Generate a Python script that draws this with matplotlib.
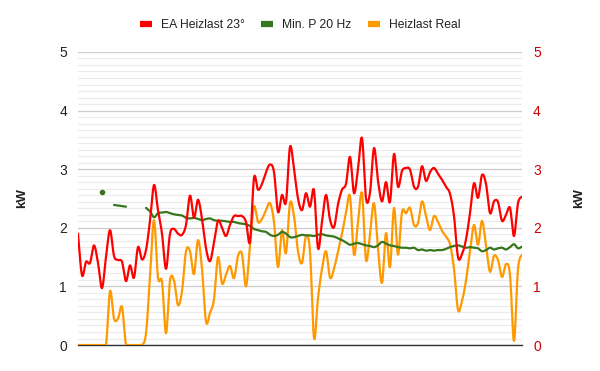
import numpy as np
import matplotlib
matplotlib.use("Agg")
import matplotlib.pyplot as plt
from matplotlib.lines import Line2D

plt.rcParams["font.family"] = ["Liberation Sans", "DejaVu Sans"]

nan = np.nan

# EA Heizlast 23° (kW)
ea_heizlast = [1.90, 1.19, 1.42, 1.40, 1.70, 1.40, 0.97, 1.50, 1.96, 1.52,
               1.45, 1.42, 1.09, 1.36, 1.15, 1.67, 1.46, 1.62, 2.12, 2.73,
               2.30, 1.90, 1.30, 1.90, 1.98, 1.90, 1.88, 2.05, 2.55, 2.17,
               2.48, 2.15, 1.65, 1.43, 1.75, 2.12, 2.00, 1.86, 2.05, 2.20,
               2.20, 2.20, 2.10, 1.76, 2.85, 2.65, 2.75, 2.95, 3.08, 2.95,
               2.27, 2.56, 2.44, 3.38, 3.00, 2.50, 2.30, 2.59, 2.36, 2.64,
               1.65, 2.10, 2.56, 2.14, 2.01, 2.40, 2.65, 2.75, 3.21, 2.59,
               3.00, 3.53, 2.50, 2.60, 3.36, 2.80, 2.45, 2.78, 2.44, 3.26,
               2.70, 2.97, 3.02, 2.99, 2.70, 2.70, 3.05, 2.80, 2.95, 3.02,
               2.92, 2.82, 2.70, 2.58, 2.20, 1.50, 1.55, 1.80, 2.25, 2.76,
               2.51, 2.90, 2.75, 2.25, 2.45, 2.44, 2.12, 2.22, 2.34, 1.86,
               2.42, 2.53]

# Min. P 20 Hz (kW), gaps where no value
min_p_20hz = [nan, nan, nan, nan, nan, nan, 2.61, nan, nan, 2.39,
              2.38, 2.37, 2.36, nan, nan, nan, nan, 2.34, 2.28, 2.18,
              2.25, 2.26, 2.27, 2.25, 2.23, 2.22, 2.21, 2.17, 2.16, 2.17,
              2.15, 2.13, 2.15, 2.16, 2.13, 2.12, 2.12, 2.11, 2.10, 2.10,
              2.08, 2.07, 2.06, 2.03, 1.98, 1.96, 1.94, 1.93, 1.88, 1.86,
              1.88, 1.93, 1.90, 1.84, 1.84, 1.86, 1.88, 1.87, 1.87, 1.86,
              1.88, 1.89, 1.87, 1.86, 1.85, 1.82, 1.79, 1.75, 1.71, 1.73,
              1.74, 1.72, 1.70, 1.69, 1.67, 1.70, 1.76, 1.73, 1.70, 1.69,
              1.67, 1.66, 1.66, 1.65, 1.66, 1.62, 1.63, 1.61, 1.62, 1.61,
              1.62, 1.62, 1.64, 1.67, 1.69, 1.70, 1.68, 1.66, 1.67, 1.66,
              1.65, 1.60, 1.62, 1.66, 1.63, 1.65, 1.66, 1.63, 1.67, 1.72,
              1.65, 1.68]

# Heizlast Real (kW)
heizlast_real = [0.00, 0.00, 0.00, 0.00, 0.00, 0.00, 0.00, 0.00, 0.92, 0.45,
                 0.45, 0.65, 0.00, 0.00, 0.00, 0.00, 0.00, 0.20, 1.16, 2.13,
                 1.15, 1.08, 0.20, 1.10, 1.10, 0.68, 0.92, 1.60, 1.60, 1.21,
                 1.79, 1.30, 0.40, 0.55, 0.78, 1.50, 1.05, 1.20, 1.35, 1.14,
                 1.52, 1.55, 1.00, 1.70, 2.36, 2.10, 2.15, 2.30, 2.42, 2.10,
                 1.33, 1.96, 1.57, 2.42, 2.20, 1.60, 1.40, 1.86, 1.60, 0.12,
                 0.80, 1.30, 1.60, 1.15, 1.30, 1.60, 1.90, 2.25, 2.54, 1.54,
                 2.10, 2.59, 1.45, 1.90, 2.42, 1.65, 1.06, 1.91, 1.33, 2.34,
                 1.54, 2.27, 2.25, 2.34, 2.05, 2.08, 2.45, 2.20, 1.96, 2.20,
                 2.10, 1.95, 1.85, 1.72, 1.30, 0.60, 0.75, 1.10, 1.60, 2.05,
                 1.71, 2.12, 1.70, 1.25, 1.52, 1.45, 1.16, 1.38, 1.20, 0.07,
                 1.30, 1.54]

y_ticks = [0, 1, 2, 3, 4, 5]
series_names = ["EA Heizlast 23°", "Min. P 20 Hz", "Heizlast Real"]
colors = ["#ff0000", "#38761d", "#ff9900"]


def smooth(xs, ys, steps=12):
    # catmull-rom through the points, just for the look of a smoothed line
    if len(xs) < 3:
        return np.asarray(xs, float), np.asarray(ys, float)
    p = np.column_stack([xs, ys]).astype(float)
    p = np.vstack([p[0], p, p[-1]])
    out = []
    t = np.linspace(0, 1, steps, endpoint=False)[:, None]
    for k in range(1, len(p) - 2):
        p0, p1, p2, p3 = p[k - 1], p[k], p[k + 1], p[k + 2]
        seg = 0.5 * ((2 * p1) + (-p0 + p2) * t + (2 * p0 - 5 * p1 + 4 * p2 - p3) * t ** 2
                     + (-p0 + 3 * p1 - 3 * p2 + p3) * t ** 3)
        out.append(seg)
    out.append(p[-2][None, :])
    out = np.vstack(out)
    return out[:, 0], out[:, 1]


def draw_series(ax, values, color, lw=1.6, floor=None):
    y = np.asarray(values, float)
    x = np.arange(len(y))
    ok = ~np.isnan(y)
    # split into runs of valid values
    start = None
    for i in range(len(y) + 1):
        if i < len(y) and ok[i]:
            if start is None:
                start = i
        elif start is not None:
            xs, ys = x[start:i], y[start:i]
            if len(xs) == 1:
                ax.plot(xs, ys, "o", color=color, markersize=3, zorder=3)
            else:
                sx, sy = smooth(xs, ys)
                if floor is not None:
                    sy = np.maximum(sy, floor)
                ax.plot(sx, sy, color=color, lw=lw, zorder=3,
                        solid_capstyle="round", solid_joinstyle="round")
            start = None


fig = plt.figure(figsize=(6.0, 3.71), dpi=100)
ax = fig.add_axes([0.13, 0.070, 0.74, 0.79])

draw_series(ax, heizlast_real, colors[2], floor=0.0)
draw_series(ax, min_p_20hz, colors[1])
draw_series(ax, ea_heizlast, colors[0])

n = len(ea_heizlast)
ax.set_xlim(0, n - 1)
ax.set_ylim(0, 5)
ax.set_yticks(y_ticks)
ax.set_yticks(np.arange(0, 5.001, 1 / 9), minor=True)
ax.set_xticks([])
ax.grid(True, which="major", axis="y", color="#cccccc", lw=0.9)
ax.grid(True, which="minor", axis="y", color="#ebebeb", lw=0.8)
ax.set_axisbelow(True)
for s in ["top", "right", "left"]:
    ax.spines[s].set_visible(False)
ax.spines["bottom"].set_color("#333333")
ax.spines["bottom"].set_linewidth(1.0)
ax.tick_params(axis="y", which="both", length=0, pad=8, labelsize=10, labelcolor="#222222")
ax.set_ylabel("kW", fontsize=9.5, fontweight="bold", color="#222222")
ax.yaxis.set_label_coords(-0.113, 0.5)

ax2 = ax.twinx()
ax2.set_ylim(0, 5)
ax2.set_yticks(y_ticks)
ax2.tick_params(axis="y", length=0, pad=8, labelsize=10, labelcolor="#cc0000")
for s in ax2.spines.values():
    s.set_visible(False)
ax2.set_ylabel("kW", fontsize=9.5, fontweight="bold", color="#222222")
ax2.yaxis.set_label_coords(1.115, 0.5)

handles = [Line2D([0], [0], color=c, lw=4.5, solid_capstyle="butt") for c in colors]
fig.legend(handles, series_names, loc="center", bbox_to_anchor=(0.5, 0.932), ncol=3,
           frameon=False, fontsize=8.7, handlelength=1.0, handletextpad=0.75,
           columnspacing=1.35, labelcolor="#222222")

fig.savefig("out.png", dpi=100)
